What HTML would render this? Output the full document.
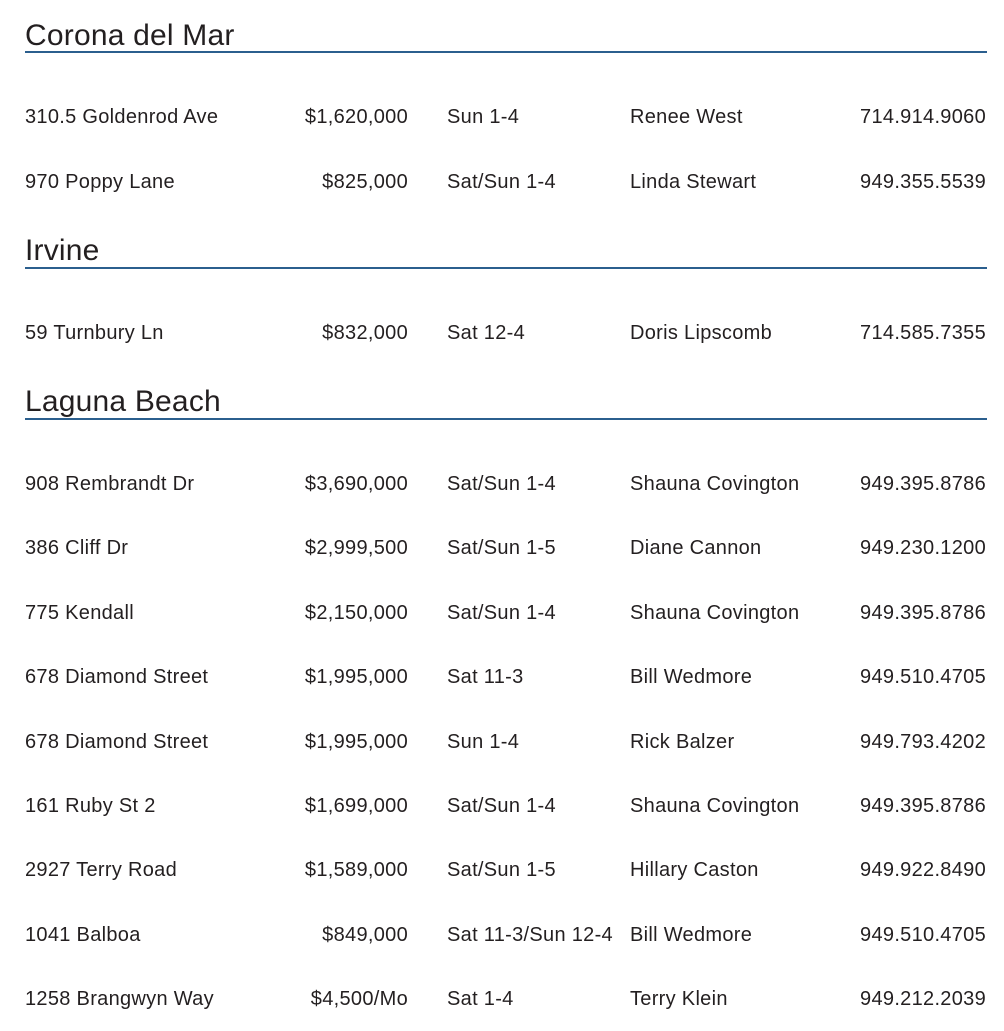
<!DOCTYPE html>
<html><head><meta charset="utf-8"><style>
body{margin:0;width:1004px;height:1031px;background:#fff;position:relative;overflow:hidden;font-family:"Liberation Sans",sans-serif;color:#231f20}
.h{position:absolute;left:25px;font-size:30px;line-height:34px;white-space:nowrap;letter-spacing:0.2px}
.l{position:absolute;left:25px;width:962px;height:2px;background:#2b5f8e}
.r{position:absolute;left:0;width:1004px;height:24px;font-size:20px;line-height:24px;white-space:nowrap;letter-spacing:0.3px}
.r span{position:absolute;top:0}
.a{left:25px}.p{right:596px;text-align:right}.t{left:447px}.n{left:630px}.ph{right:18px}
</style></head><body>
<div class="h" style="top:19px">Corona del Mar</div><div class="l" style="top:51px"></div>
<div class="r" style="top:105px"><span class="a">310.5 Goldenrod Ave</span><span class="p">$1,620,000</span><span class="t">Sun 1-4</span><span class="n">Renee West</span><span class="ph">714.914.9060</span></div>
<div class="r" style="top:170px"><span class="a">970 Poppy Lane</span><span class="p">$825,000</span><span class="t">Sat/Sun 1-4</span><span class="n">Linda Stewart</span><span class="ph">949.355.5539</span></div>
<div class="h" style="top:234px">Irvine</div><div class="l" style="top:267px"></div>
<div class="r" style="top:321px"><span class="a">59 Turnbury Ln</span><span class="p">$832,000</span><span class="t">Sat 12-4</span><span class="n">Doris Lipscomb</span><span class="ph">714.585.7355</span></div>
<div class="h" style="top:385px">Laguna Beach</div><div class="l" style="top:418px"></div>
<div class="r" style="top:472px"><span class="a">908 Rembrandt Dr</span><span class="p">$3,690,000</span><span class="t">Sat/Sun 1-4</span><span class="n">Shauna Covington</span><span class="ph">949.395.8786</span></div>
<div class="r" style="top:536px"><span class="a">386 Cliff Dr</span><span class="p">$2,999,500</span><span class="t">Sat/Sun 1-5</span><span class="n">Diane Cannon</span><span class="ph">949.230.1200</span></div>
<div class="r" style="top:601px"><span class="a">775 Kendall</span><span class="p">$2,150,000</span><span class="t">Sat/Sun 1-4</span><span class="n">Shauna Covington</span><span class="ph">949.395.8786</span></div>
<div class="r" style="top:665px"><span class="a">678 Diamond Street</span><span class="p">$1,995,000</span><span class="t">Sat 11-3</span><span class="n">Bill Wedmore</span><span class="ph">949.510.4705</span></div>
<div class="r" style="top:730px"><span class="a">678 Diamond Street</span><span class="p">$1,995,000</span><span class="t">Sun 1-4</span><span class="n">Rick Balzer</span><span class="ph">949.793.4202</span></div>
<div class="r" style="top:794px"><span class="a">161 Ruby St 2</span><span class="p">$1,699,000</span><span class="t">Sat/Sun 1-4</span><span class="n">Shauna Covington</span><span class="ph">949.395.8786</span></div>
<div class="r" style="top:858px"><span class="a">2927 Terry Road</span><span class="p">$1,589,000</span><span class="t">Sat/Sun 1-5</span><span class="n">Hillary Caston</span><span class="ph">949.922.8490</span></div>
<div class="r" style="top:923px"><span class="a">1041 Balboa</span><span class="p">$849,000</span><span class="t">Sat 11-3/Sun 12-4</span><span class="n">Bill Wedmore</span><span class="ph">949.510.4705</span></div>
<div class="r" style="top:987px"><span class="a">1258 Brangwyn Way</span><span class="p">$4,500/Mo</span><span class="t">Sat 1-4</span><span class="n">Terry Klein</span><span class="ph">949.212.2039</span></div>
</body></html>
